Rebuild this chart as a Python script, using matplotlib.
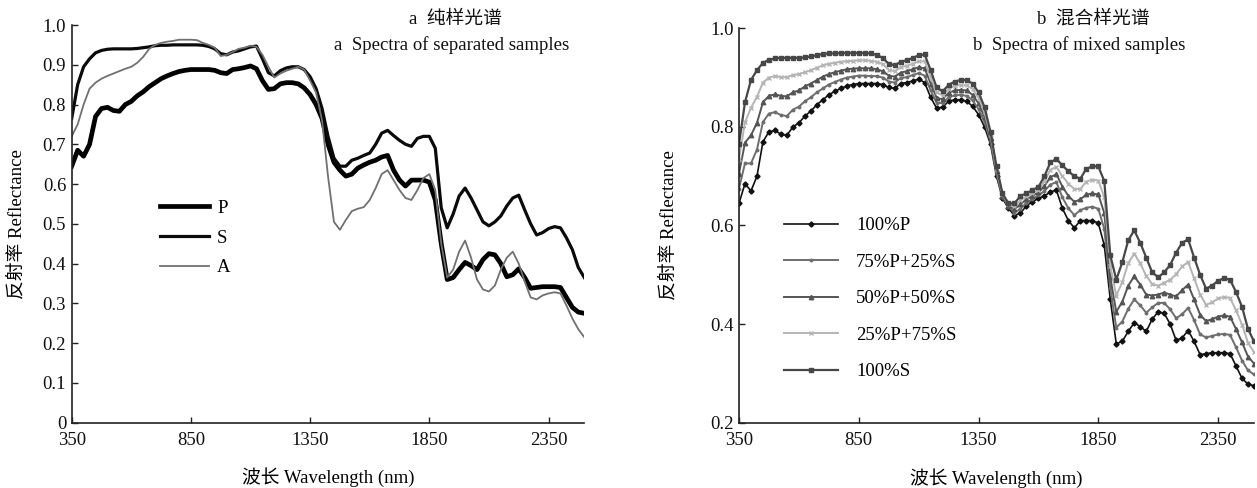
import numpy as np
import matplotlib
matplotlib.use("Agg")
import matplotlib.pyplot as plt

plt.rcParams['font.family'] = ['Liberation Serif', 'Noto Sans CJK SC', 'DejaVu Sans']
plt.rcParams['axes.unicode_minus'] = False

# ---------------- data ----------------
wavelength = list(range(350, 2501, 25))

P = [0.645, 0.685, 0.670, 0.700, 0.770, 0.790, 0.793, 0.785, 0.783, 0.800,
     0.808, 0.822, 0.832, 0.845, 0.855, 0.865, 0.872, 0.878, 0.883, 0.886,
     0.888, 0.888, 0.888, 0.888, 0.886, 0.880, 0.878, 0.888, 0.890, 0.893,
     0.897, 0.890, 0.860, 0.838, 0.840, 0.852, 0.855, 0.855, 0.852, 0.842,
     0.825, 0.800, 0.765, 0.700, 0.655, 0.635, 0.620, 0.625, 0.640, 0.648,
     0.655, 0.660, 0.668, 0.672, 0.635, 0.610, 0.595, 0.610, 0.610, 0.610,
     0.605, 0.560, 0.450, 0.360, 0.365, 0.385, 0.403, 0.395, 0.385, 0.410,
     0.425, 0.422, 0.400, 0.367, 0.372, 0.387, 0.365, 0.338, 0.340, 0.342,
     0.342, 0.342, 0.340, 0.315, 0.290, 0.278, 0.275]

S = [0.765, 0.850, 0.895, 0.915, 0.930, 0.936, 0.939, 0.940, 0.940, 0.940,
     0.940, 0.941, 0.943, 0.945, 0.948, 0.949, 0.949, 0.950, 0.950, 0.950,
     0.950, 0.950, 0.949, 0.946, 0.940, 0.928, 0.925, 0.932, 0.935, 0.940,
     0.945, 0.947, 0.915, 0.880, 0.872, 0.885, 0.892, 0.895, 0.895, 0.888,
     0.870, 0.840, 0.790, 0.720, 0.665, 0.645, 0.645, 0.660, 0.665, 0.672,
     0.678, 0.700, 0.728, 0.735, 0.722, 0.710, 0.700, 0.695, 0.715, 0.720,
     0.720, 0.690, 0.540, 0.490, 0.525, 0.570, 0.590, 0.565, 0.535, 0.505,
     0.495, 0.505, 0.520, 0.545, 0.565, 0.572, 0.535, 0.500, 0.472, 0.478,
     0.488, 0.493, 0.490, 0.465, 0.435, 0.390, 0.365]

A = [0.720, 0.750, 0.800, 0.840, 0.855, 0.865, 0.872, 0.878, 0.884, 0.890,
     0.895, 0.905, 0.920, 0.940, 0.950, 0.955, 0.958, 0.960, 0.963, 0.963,
     0.963, 0.962, 0.955, 0.950, 0.943, 0.922, 0.925, 0.932, 0.940, 0.943,
     0.948, 0.945, 0.925, 0.895, 0.868, 0.878, 0.885, 0.890, 0.895, 0.888,
     0.860, 0.830, 0.760, 0.620, 0.505, 0.485, 0.510, 0.532, 0.538, 0.542,
     0.560, 0.590, 0.625, 0.635, 0.610, 0.585, 0.565, 0.560, 0.585, 0.615,
     0.625, 0.585, 0.450, 0.365, 0.385, 0.430, 0.458, 0.415, 0.360, 0.335,
     0.330, 0.345, 0.385, 0.415, 0.430, 0.400, 0.355, 0.315, 0.310, 0.320,
     0.325, 0.328, 0.325, 0.295, 0.262, 0.235, 0.215]

M75P25S = [0.675, 0.726, 0.726, 0.754, 0.810, 0.827, 0.830, 0.824, 0.822, 0.835,
           0.841, 0.852, 0.860, 0.870, 0.878, 0.886, 0.891, 0.896, 0.900, 0.902,
           0.904, 0.904, 0.903, 0.903, 0.900, 0.892, 0.890, 0.899, 0.901, 0.905,
           0.909, 0.904, 0.874, 0.849, 0.848, 0.860, 0.864, 0.865, 0.863, 0.854,
           0.836, 0.810, 0.771, 0.705, 0.658, 0.638, 0.626, 0.634, 0.646, 0.654,
           0.661, 0.670, 0.683, 0.688, 0.657, 0.635, 0.621, 0.631, 0.636, 0.638,
           0.634, 0.593, 0.473, 0.393, 0.405, 0.431, 0.450, 0.438, 0.423, 0.434,
           0.443, 0.443, 0.430, 0.412, 0.420, 0.433, 0.408, 0.379, 0.373, 0.376,
           0.379, 0.380, 0.378, 0.353, 0.326, 0.306, 0.298]

M50P50S = [0.705, 0.768, 0.783, 0.808, 0.850, 0.863, 0.866, 0.863, 0.862, 0.870,
           0.874, 0.882, 0.888, 0.895, 0.902, 0.907, 0.911, 0.914, 0.917, 0.918,
           0.919, 0.919, 0.919, 0.917, 0.913, 0.904, 0.902, 0.910, 0.913, 0.917,
           0.921, 0.919, 0.888, 0.859, 0.856, 0.869, 0.874, 0.875, 0.874, 0.865,
           0.848, 0.820, 0.778, 0.710, 0.660, 0.640, 0.633, 0.643, 0.653, 0.660,
           0.667, 0.680, 0.698, 0.704, 0.679, 0.660, 0.648, 0.653, 0.663, 0.665,
           0.663, 0.625, 0.495, 0.425, 0.445, 0.478, 0.497, 0.480, 0.460, 0.458,
           0.460, 0.464, 0.460, 0.456, 0.469, 0.480, 0.450, 0.419, 0.406, 0.410,
           0.415, 0.418, 0.415, 0.390, 0.363, 0.334, 0.320]

M25P75S = [0.735, 0.809, 0.839, 0.861, 0.890, 0.900, 0.903, 0.901, 0.901, 0.905,
           0.907, 0.911, 0.915, 0.920, 0.925, 0.928, 0.930, 0.932, 0.933, 0.934,
           0.935, 0.935, 0.934, 0.932, 0.927, 0.916, 0.913, 0.921, 0.924, 0.928,
           0.933, 0.933, 0.901, 0.870, 0.864, 0.877, 0.883, 0.885, 0.884, 0.877,
           0.859, 0.830, 0.784, 0.715, 0.663, 0.643, 0.639, 0.651, 0.659, 0.666,
           0.672, 0.690, 0.713, 0.719, 0.700, 0.685, 0.674, 0.674, 0.689, 0.693,
           0.691, 0.658, 0.518, 0.458, 0.485, 0.524, 0.543, 0.523, 0.498, 0.481,
           0.478, 0.484, 0.490, 0.501, 0.517, 0.526, 0.493, 0.460, 0.439, 0.444,
           0.452, 0.455, 0.453, 0.428, 0.399, 0.362, 0.343]

x_ticks = [350, 850, 1350, 1850, 2350]
left_yticks = [0, 0.1, 0.2, 0.3, 0.4, 0.5, 0.6, 0.7, 0.8, 0.9, 1.0]
right_yticks = [0.2, 0.4, 0.6, 0.8, 1.0]

left_labels = ['P', 'S', 'A']
right_labels = ['100%P', '75%P+25%S', '50%P+50%S', '25%P+75%S', '100%S']

# ---------------- figure ----------------
W, H = 1257, 488
fig = plt.figure(figsize=(W / 100, H / 100), dpi=100)
fig.patch.set_facecolor('white')

def px_axes(x0, y_top, x1, y_bot):
    return fig.add_axes([x0 / W, 1 - y_bot / H, (x1 - x0) / W, (y_bot - y_top) / H])

axL = px_axes(71.7, 25.0, 584.3, 422.7)
axR = px_axes(739.0, 28.3, 1254.0, 422.7)

spine_col = '#222222'
tick_fs = 13.5

def style(ax):
    for s in ['top', 'right']:
        ax.spines[s].set_visible(False)
    for s in ['left', 'bottom']:
        ax.spines[s].set_linewidth(1.2)
        ax.spines[s].set_color(spine_col)
    ax.tick_params(direction='in', length=4, width=1.0, color=spine_col,
                   labelsize=tick_fs, labelcolor='#111111')
    ax.tick_params(axis='x', pad=7)
    ax.tick_params(axis='y', pad=4)
    ax.set_xlim(350, 2500)
    ax.set_xticks(x_ticks)
    ax.set_xticklabels([str(v) for v in x_ticks])

# Left panel
style(axL)
axL.plot(wavelength, P, color='#000000', lw=3.4, label=left_labels[0], solid_joinstyle='round')
axL.plot(wavelength, S, color='#0a0a0a', lw=2.3, label=left_labels[1], solid_joinstyle='round')
axL.plot(wavelength, A, color='#707070', lw=1.3, label=left_labels[2])
axL.set_ylim(0, 1.0)
axL.set_yticks(left_yticks)
axL.set_yticklabels(['0' if v == 0 else f'{v:.1f}' for v in left_yticks])
axL.legend(loc='center left', bbox_to_anchor=((160 - 71.7) / 512.6, (422.7 - 238) / 397.7),
           frameon=False, fontsize=13.5, handlelength=2.6, handletextpad=0.45,
           labelspacing=0.67, borderpad=0, borderaxespad=0)

# Right panel
style(axR)
styles = [
    dict(color='#111111', marker='D', ms=2.6, lw=1.2),
    dict(color='#6e6e6e', marker='o', ms=1.8, lw=1.4),
    dict(color='#555555', marker='^', ms=3.2, lw=1.4),
    dict(color='#b4b4b4', marker='x', ms=3.2, mew=1.0, lw=1.4),
    dict(color='#474747', marker='s', ms=2.8, lw=1.6),
]
series = [P, M75P25S, M50P50S, M25P75S, S]
for lab, ys, st in zip(right_labels, series, styles):
    axR.plot(wavelength, ys, label=lab, **st)
axR.set_ylim(0.2, 1.0)
axR.set_yticks(right_yticks)
axR.set_yticklabels([f'{v:.1f}' for v in right_yticks])
axR.legend(loc='center left', bbox_to_anchor=((784 - 739) / 515, (422.7 - 298.7) / 394.4),
           frameon=False, fontsize=13.5, handlelength=2.9, handletextpad=0.95,
           labelspacing=1.03, borderpad=0, borderaxespad=0)

# Axis labels
for ax, ylx, xly in [(axL, (17 - 71.7) / 512.6, (422.7 - 477) / 397.7),
                     (axR, (669 - 739) / 515, (422.7 - 478) / 394.4)]:
    ax.set_xlabel('波长 Wavelength (nm)', fontsize=13.5, va='center', ha='center')
    ax.xaxis.set_label_coords(0.5, xly)
    ax.set_ylabel('反射率 Reflectance', fontsize=13.5, va='center', ha='center')
    ax.yaxis.set_label_coords(ylx, 0.5)

# Panel titles
def ftext(x, y, s):
    fig.text(x / W, 1 - y / H, s, ha='center', va='center', fontsize=13.5, color='#111111')

ftext(455.5, 19, 'a  纯样光谱')
ftext(452, 45, 'a  Spectra of separated samples')
ftext(1093.5, 19, 'b  混合样光谱')
ftext(1078.8, 45, 'b  Spectra of mixed samples')

fig.savefig('out.png', dpi=100)
